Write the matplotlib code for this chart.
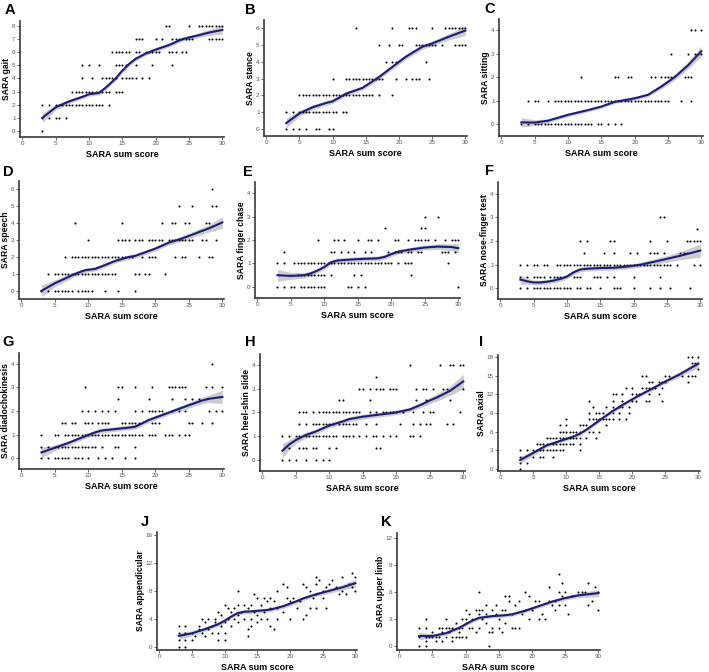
import matplotlib
matplotlib.use("Agg")
import matplotlib.pyplot as plt
import numpy as np

plt.rcParams['font.family'] = ['Liberation Sans', 'DejaVu Sans']

# ---- data: scatter rows as (item score, [sum scores]) ----
GAIT_ROWS = [
    (8, [21.5, 22, 25, 26.5, 27, 27.5, 28, 28.5, 29, 29.5, 30]),
    (7, [17, 17.5, 18, 20, 21, 22.5, 23, 23.5, 24, 24.5, 25, 25.5, 28, 28.5, 29, 29.5, 30]),
    (6, [13.5, 14, 14.5, 15, 15.5, 16, 17, 17.5, 18.5, 19, 19.5, 20, 20.5, 22, 22.5, 23, 24, 24.5]),
    (5, [9, 10, 11.5, 14, 14.5, 15, 15.5, 17, 19.5, 22.5]),
    (4, [9, 10.5, 12, 12.5, 13, 13.5, 14, 15, 15.5, 16, 16.5, 17, 18, 19]),
    (3, [7.5, 8, 8.5, 9, 9.5, 10, 10.5, 11, 11.5, 12, 12.5, 13, 14, 14.5, 15]),
    (2, [3, 4, 5, 5.5, 6, 6.5, 7, 7.5, 8, 8.5, 9, 9.5, 10, 10.5, 11, 11.5, 12, 13]),
    (1, [3, 4, 5, 5.5, 6.5]),
    (0, [3]),
]
STANCE_ROWS = [
    (6, [13.5, 19, 21.5, 22, 22.5, 25, 27, 27.5, 28, 28.5, 29, 29.5, 30]),
    (5, [17, 18.5, 20, 20.5, 22.5, 23, 23.5, 24, 24.5, 25, 25.5, 26.5, 28.5, 29, 29.5, 30]),
    (4, [18, 19, 19.5, 24]),
    (3, [10, 12, 12.5, 13, 13.5, 14, 14.5, 15, 15.5, 16, 16.5, 17, 17.5, 19.5, 21, 22, 22.5, 23, 24.5]),
    (2, [5, 5.5, 6, 6.5, 7, 7.5, 8, 8.5, 9, 9.5, 10, 10.5, 11, 11.5, 12, 12.5, 13, 13.5, 14,
         14.5, 15, 15.5, 16, 17, 19]),
    (1, [3, 4, 5, 5.5, 6, 6.5, 7, 7.5, 8, 8.5, 9, 9.5, 10, 10.5, 11.5, 12]),
    (0, [3, 4, 5, 6, 7.5, 8, 9.5, 10]),
]
SITTING_ROWS = [
    (4, [28.5, 29, 30]),
    (3, [25.5, 28, 29, 30]),
    (2, [12, 17, 17.5, 19, 19.5, 22.5, 23, 24, 24.5, 25, 25.5, 27.5, 28, 28.5]),
    (1, [4, 5, 5.5, 7, 8, 8.5, 9, 9.5, 10, 10.5, 11, 11.5, 12, 12.5, 13, 13.5, 14, 14.5, 15,
         15.5, 16, 16.5, 17, 17.5, 18, 18.5, 19, 19.5, 20, 20.5, 21, 21.5, 22, 22.5, 23, 23.5,
         24, 24.5, 25, 27, 28.5]),
    (0, [3, 4, 5, 5.5, 6, 6.5, 7, 7.5, 8, 8.5, 9, 9.5, 10, 10.5, 11, 11.5, 12, 12.5, 13, 13.5,
         14.5, 15, 16, 17, 18]),
]
SPEECH_ROWS = [
    (6, [28.5]),
    (5, [23.5, 25.5, 28.5, 29]),
    (4, [8, 15, 21, 22.5, 23, 24.5, 25, 27.5, 28]),
    (3, [10, 14.5, 15, 15.5, 16, 17, 17.5, 18, 19, 19.5, 20, 20.5, 21, 22, 22.5, 23, 23.5, 24,
         24.5, 25, 25.5, 27, 27.5, 29]),
    (2, [6.5, 7.5, 8, 8.5, 9, 9.5, 10, 10.5, 11, 11.5, 12, 12.5, 13, 13.5, 14, 14.5, 15, 15.5,
         16, 16.5, 18, 19, 19.5, 20, 23, 24, 24.5, 26.5, 28, 28.5]),
    (1, [4, 5, 5.5, 6, 6.5, 7, 7.5, 8, 8.5, 9, 9.5, 10, 10.5, 11, 11.5, 12, 12.5, 13, 13.5, 14,
         17, 17.5, 18.5, 19, 21.5]),
    (0, [3, 4, 5, 5.5, 6, 6.5, 7, 7.5, 8.5, 9, 9.5, 10, 10.5, 12.5, 14.5, 17]),
]
CHASE_ROWS = [
    (3, [25, 27]),
    (2.5, [19, 24.5, 25]),
    (2, [9, 11.5, 12, 13, 15, 16.5, 17, 18, 20.5, 21, 22.5, 23.5, 24, 24.5, 25, 25.5, 26.5, 28,
         29, 29.5, 30]),
    (1.5, [4, 11, 11.5, 12.5, 13.5, 14.5, 16, 17, 19.5, 20.5, 21, 21.5, 22.5, 23, 24, 24.5,
           27.5, 28, 28.5, 29.5]),
    (1, [3, 4, 5.5, 6, 6.5, 7, 7.5, 8, 8.5, 9, 9.5, 10, 10.5, 11, 11.5, 12, 12.5, 13, 13.5, 14,
         14.5, 15, 15.5, 16, 16.5, 17, 17.5, 18, 18.5, 19, 19.5, 20, 21, 22, 22.5, 23, 28.5]),
    (0.5, [6, 6.5, 7, 7.5, 8, 8.5, 9, 9.5, 10, 11, 14.5, 15.5, 23]),
    (0, [3, 4, 5, 5.5, 6.5, 7, 7.5, 8, 8.5, 9, 9.5, 10, 13.5, 14, 15, 16, 30]),
]
NOSE_ROWS = [
    (3, [24, 24.5]),
    (2.5, [29.5]),
    (2, [12, 13, 16.5, 17, 22.5, 25, 28, 28.5, 29, 29.5, 30]),
    (1.5, [12.5, 15.5, 17, 19.5, 20.5, 22.5, 23, 23.5, 24.5, 27, 27.5, 28]),
    (1, [3, 4, 5, 5.5, 6.5, 7, 8.5, 9, 9.5, 10, 10.5, 11, 11.5, 12, 12.5, 13, 13.5, 14, 14.5,
         15, 15.5, 16, 16.5, 17, 17.5, 18, 18.5, 19, 19.5, 20, 20.5, 21, 21.5, 22, 22.5, 23,
         23.5, 24, 24.5, 25, 25.5, 26.5, 29, 30]),
    (0.5, [3, 4, 5, 5.5, 6, 6.5, 7.5, 8, 8.5, 9, 11, 11.5, 12, 14, 14.5, 15, 16, 17, 20, 24]),
    (0, [3, 4, 5, 5.5, 6, 6.5, 7, 7.5, 8, 8.5, 9, 9.5, 10, 10.5, 11.5, 12, 13, 13.5, 15, 17,
         17.5, 18, 20, 22.5, 24, 25.5, 28.5]),
]
DIADO_ROWS = [
    (4, [28.5]),
    (3, [9.5, 14.5, 15, 17, 19.5, 22, 22.5, 23, 23.5, 24, 24.5, 27.5, 28.5, 30]),
    (2.5, [14.5, 19, 22.5, 24.5, 25.5, 26.5]),
    (2, [9, 10, 11, 12, 13, 14, 17, 18, 19, 19.5, 20, 20.5, 21, 22.5, 23.5, 24.5, 28, 29, 30]),
    (1.5, [6, 6.5, 7.5, 8, 9.5, 10, 10.5, 11.5, 12, 12.5, 13, 15, 15.5, 16, 16.5, 17, 17.5,
           19.5, 20, 20.5, 25, 25.5, 27, 28.5]),
    (1, [3, 5, 5.5, 6.5, 7, 7.5, 8, 8.5, 9, 9.5, 10, 10.5, 11, 11.5, 12, 12.5, 13, 13.5, 14,
         14.5, 15, 15.5, 16, 16.5, 17, 17.5, 18, 19, 19.5, 20, 21.5, 22, 22.5, 23.5, 24.5, 25]),
    (0.5, [3, 4, 5, 5.5, 6, 6.5, 7, 7.5, 8, 8.5, 9, 9.5, 10, 10.5, 11, 12, 14, 14.5, 17]),
    (0, [3, 4, 5, 5.5, 6, 6.5, 7, 8, 8.5, 9, 10, 11.5, 12.5, 13.5, 15.5, 17]),
]
HEEL_ROWS = [
    (4, [22, 26.5, 28, 28.5, 29.5, 30]),
    (3.5, [17]),
    (3, [14.5, 15, 16, 17, 17.5, 18, 19, 19.5, 20, 23, 24, 24.5, 25.5, 27, 27.5, 30]),
    (2.5, [11.5, 12, 16, 23, 24.5, 28]),
    (2, [5.5, 6, 6.5, 7.5, 8.5, 9, 9.5, 10, 10.5, 11, 11.5, 12, 12.5, 13, 13.5, 14, 14.5, 16,
         17, 18, 18.5, 19, 19.5, 20, 21, 22.5, 24, 25, 25.5, 29.5]),
    (1.5, [5.5, 6.5, 7.5, 8, 8.5, 9, 9.5, 10, 10.5, 11.5, 12, 12.5, 13, 13.5, 14, 15.5, 17,
           20.5, 22.5, 23.5, 24.5, 25, 27.5, 28.5]),
    (1, [3, 4, 5, 5.5, 6.5, 7, 7.5, 8, 8.5, 9, 9.5, 10, 10.5, 11, 12, 12.5, 13, 13.5, 14.5,
         15.5, 16.5, 17, 18, 19, 20, 22, 22.5, 23.5]),
    (0.5, [4, 5.5, 6, 6.5, 7.5, 8, 10, 11, 17, 17.5]),
    (0, [3, 4, 5, 6.5, 8, 9, 10]),
]
AXIAL_ROWS = [
    (18, [28.5, 29, 30]),
    (17, [29, 29.5]),
    (16, [30]),
    (15, [21.5, 22, 25, 25.5, 27.5, 28.5, 29, 29.5]),
    (14, [22.5, 23, 24, 24.5, 25, 28.5]),
    (13, [19, 20, 21.5, 22, 22.5, 23, 23.5, 24.5]),
    (12, [17, 17.5, 18.5, 20, 20.5, 21, 22.5, 24]),
    (11, [13.5, 17, 18.5, 20, 20.5, 22, 22.5, 24.5]),
    (10, [14, 16, 17, 18, 18.5, 19.5]),
    (9, [13.5, 14.5, 15, 15.5, 17, 18, 19.5]),
    (8, [10, 13.5, 14, 14.5, 15, 15.5, 16, 16.5, 17, 18, 19]),
    (7, [9, 10, 12, 12.5, 13, 16]),
    (6, [9, 9.5, 10, 10.5, 11, 11.5, 12, 13.5, 14, 15]),
    (5, [7, 7.5, 8, 8.5, 9, 9.5, 10, 10.5, 11, 11.5, 12, 13, 14.5]),
    (4, [5.5, 6, 6.5, 7, 8, 8.5, 9, 9.5, 10, 10.5, 11, 12]),
    (3, [3, 4, 5, 5.5, 6, 6.5, 7, 7.5, 8, 8.5, 9, 9.5, 12]),
    (2, [3, 5, 6, 6.5, 8]),
    (1, [3, 4]),
    (0, [3]),
]
# (sum score, item score) pairs for the finer-grained composite scores
APPEND_POINTS = [
    (3, 3), (3, 2), (3, 1), (3, 0), (4, 3), (4, 2), (4, 1), (4, 0), (5, 2), (5, 1), (5.5, 1.5),
    (6, 2.5), (6, 3), (6.5, 4), (6.5, 2), (7, 3.5), (7, 1.5), (7.5, 4), (7.5, 2.5), (8, 3),
    (8, 2), (8.5, 4), (8.5, 3.5), (9, 5), (9, 2), (9, 1), (9.5, 4.5), (9.5, 3), (10, 6), (10, 1),
    (10, 2), (10, 3.5), (10.5, 5.5), (10.5, 4), (11, 5), (11, 3), (11.5, 5.5), (11.5, 4),
    (12, 8), (12, 6), (12, 4.5), (12, 3.5), (12.5, 5), (13, 6), (13, 4), (13.5, 5.5),
    (13.5, 2.5), (13.5, 1.5), (14, 6), (14, 3), (14, 4), (14.5, 7.5), (14.5, 5), (15, 7),
    (15, 3.5), (15, 4.5), (15.5, 6), (15.5, 4), (16, 7), (16, 5), (16.5, 6.5), (16.5, 4),
    (17, 7), (17, 3), (17, 5.5), (17.5, 2.5), (17.5, 6.5), (18, 8), (18, 5.5), (18, 4), (19, 9),
    (19, 5), (19.5, 8.5), (19.5, 7), (20, 6.5), (20, 4), (20.5, 7), (21, 5.5), (21.5, 6.5),
    (22, 9), (22, 4), (22.5, 8.5), (22.5, 4.5), (23, 8), (23, 5.5), (23.5, 7), (24, 10), (24, 9),
    (24, 7.5), (24, 5.5), (24.5, 9.5), (25, 8), (25, 7), (25.5, 8.5), (25.5, 5.5), (26, 9),
    (26.5, 9.5), (27, 8.5), (27.5, 7.5), (28, 10), (28, 8), (28.5, 7.5), (29, 9), (29.5, 10.5),
    (29.5, 8.5), (30, 10), (30, 8),
]
UPPER_POINTS = [
    (3, 2), (3, 1), (3, 0), (4, 3), (4, 2), (4, 1), (4, 0.5), (4, 0), (4.5, 1), (5, 1.5), (5, 1),
    (5.5, 1), (5.5, 0.5), (6, 2), (6, 1), (6.5, 2), (6.5, 1.5), (6.5, 0.5), (7, 3), (7, 2),
    (7, 1), (7.5, 1.5), (7.5, 2), (8, 2), (8, 1), (8, 0.5), (8.5, 2.5), (8.5, 1), (9, 2),
    (9, 1.5), (9, 1), (9.5, 3), (9.5, 2), (9.5, 1), (10, 4), (10, 3), (10, 2.5), (10, 1),
    (10.5, 3.5), (10.5, 2), (11, 3), (11, 2), (11.5, 4), (11.5, 1.5), (12, 6), (12, 3.5),
    (12, 4), (12, 2), (12.5, 4), (12.5, 3), (13, 4.5), (13, 3.5), (13, 2.5), (13.5, 1.5),
    (13.5, 0), (14, 4), (14, 2), (14, 1.5), (14.5, 4.5), (14.5, 3.5), (15, 3), (15, 2),
    (15.5, 4), (15.5, 1.5), (16, 5.5), (16, 4), (16, 2.5), (16.5, 5.5), (16.5, 5), (17, 3.5),
    (17, 2), (17.5, 4.5), (17.5, 2), (18, 5), (18, 2), (18.5, 3.5), (19, 6), (19, 4),
    (19.5, 5.5), (19.5, 3), (20, 4), (20.5, 5), (21, 5), (21, 3), (21.5, 3.5), (22, 3),
    (22.5, 6.5), (22.5, 5), (23, 4.5), (23.5, 5), (23.5, 4), (24, 8), (24, 6), (24, 4.5),
    (24.5, 7), (24.5, 5.5), (25, 6), (25, 4.5), (25.5, 3.5), (26, 5.5), (27, 6), (27.5, 6),
    (28, 6), (28.5, 7), (28.5, 4.5), (29, 5), (29.5, 6.5), (30, 6), (30, 4),
]

# ---- data: smoothed fit (x, fitted value, CI half width) ----
GAIT_FIT_X = [3, 5, 7, 9, 10, 11.5, 12.5, 14, 15, 16, 17, 18.5, 20, 22, 24, 26.5, 28, 30]
GAIT_FIT_Y = [1.0, 1.8, 2.25, 2.6, 2.8, 2.9, 3.3, 4.0, 4.6, 5.1, 5.5, 5.9, 6.2, 6.55, 7.0, 7.3, 7.5, 7.7]
GAIT_CI = [0.35, 0.2, 0.15, 0.15, 0.15, 0.15, 0.15, 0.17, 0.17, 0.17, 0.17, 0.15, 0.15, 0.15, 0.15, 0.18, 0.22, 0.32]

STANCE_FIT_X = [3, 5, 7, 9, 10, 12, 14.5, 17, 19, 21, 23.5, 25, 27.5, 30]
STANCE_FIT_Y = [0.35, 0.93, 1.3, 1.55, 1.65, 2.1, 2.45, 3.1, 3.7, 4.3, 4.9, 5.1, 5.5, 5.87]
STANCE_CI = [0.3, 0.17, 0.15, 0.13, 0.13, 0.13, 0.13, 0.15, 0.15, 0.15, 0.15, 0.15, 0.18, 0.3]

SITTING_FIT_X = [3, 5, 7, 10, 13, 15, 17, 20, 22, 24, 26, 28, 30]
SITTING_FIT_Y = [0.08, 0.07, 0.15, 0.4, 0.6, 0.75, 0.95, 1.1, 1.25, 1.6, 2.0, 2.5, 3.1]
SITTING_CI = [0.2, 0.12, 0.08, 0.08, 0.07, 0.07, 0.07, 0.07, 0.08, 0.1, 0.12, 0.15, 0.22]

SPEECH_FIT_X = [3, 5, 8, 9.5, 11, 12, 14, 16, 17, 20, 22, 24, 26, 28, 30]
SPEECH_FIT_Y = [0.0, 0.45, 1.0, 1.22, 1.3, 1.45, 1.77, 2.0, 2.07, 2.5, 2.85, 3.1, 3.4, 3.7, 4.05]
SPEECH_CI = [0.35, 0.2, 0.15, 0.13, 0.13, 0.13, 0.13, 0.13, 0.13, 0.13, 0.14, 0.15, 0.18, 0.22, 0.35]

CHASE_FIT_X = [3, 5, 7, 8, 9, 10, 11, 12, 14, 16, 18, 19, 20, 21, 23, 25, 27, 29, 30]
CHASE_FIT_Y = [0.5, 0.47, 0.5, 0.58, 0.7, 0.85, 1.05, 1.13, 1.17, 1.2, 1.22, 1.28, 1.4, 1.5, 1.6, 1.68, 1.72, 1.7, 1.65]
CHASE_CI = [0.25, 0.15, 0.12, 0.1, 0.1, 0.1, 0.1, 0.1, 0.1, 0.1, 0.1, 0.1, 0.1, 0.1, 0.1, 0.1, 0.12, 0.15, 0.22]

NOSE_FIT_X = [3, 4, 5, 6, 7, 8, 9, 10, 11, 12, 13, 15, 17, 19, 21, 23, 25, 27, 30]
NOSE_FIT_Y = [0.37, 0.3, 0.25, 0.25, 0.28, 0.33, 0.4, 0.5, 0.68, 0.8, 0.83, 0.86, 0.87, 0.92, 1.0, 1.12, 1.25, 1.38, 1.6]
NOSE_CI = [0.2, 0.12, 0.1, 0.1, 0.1, 0.1, 0.1, 0.1, 0.1, 0.1, 0.1, 0.1, 0.1, 0.1, 0.1, 0.12, 0.14, 0.17, 0.28]

DIADO_FIT_X = [3, 5, 7, 9, 11, 12, 14, 16, 17, 18, 19, 21, 23, 25, 27, 28, 30]
DIADO_FIT_Y = [0.25, 0.45, 0.65, 0.88, 1.1, 1.18, 1.24, 1.3, 1.34, 1.48, 1.62, 1.83, 2.04, 2.25, 2.45, 2.52, 2.6]
DIADO_CI = [0.22, 0.12, 0.1, 0.1, 0.1, 0.1, 0.1, 0.1, 0.1, 0.1, 0.1, 0.1, 0.1, 0.12, 0.14, 0.16, 0.28]

HEEL_FIT_X = [3, 4, 5, 6.5, 8, 10, 12, 13, 15, 17, 19, 20, 22, 24, 25, 26, 28, 30]
HEEL_FIT_Y = [0.39, 0.65, 0.84, 1.05, 1.2, 1.45, 1.62, 1.72, 1.82, 1.89, 1.96, 2.0, 2.12, 2.36, 2.5, 2.62, 2.9, 3.3]
HEEL_CI = [0.3, 0.2, 0.15, 0.12, 0.1, 0.1, 0.1, 0.1, 0.1, 0.1, 0.1, 0.1, 0.1, 0.12, 0.13, 0.15, 0.2, 0.3]

AXIAL_FIT_X = [3, 5, 7, 9, 10, 11, 12, 13, 15, 17, 19, 21, 23, 25, 27, 30]
AXIAL_FIT_Y = [1.45, 2.6, 3.8, 4.5, 4.85, 5.2, 5.65, 6.3, 7.8, 9.3, 10.6, 11.8, 12.9, 14.05, 15.1, 16.9]
AXIAL_CI = [0.6, 0.4, 0.3, 0.3, 0.3, 0.3, 0.3, 0.3, 0.3, 0.3, 0.3, 0.3, 0.3, 0.35, 0.4, 0.6]

APPEND_FIT_X = [3, 5, 7, 9, 10, 11, 12, 13, 14, 16, 17, 19, 21, 22, 24, 26, 28, 30]
APPEND_FIT_Y = [1.53, 1.9, 2.5, 3.2, 3.7, 4.3, 4.8, 5.0, 5.05, 5.2, 5.3, 5.8, 6.5, 6.9, 7.5, 8.0, 8.5, 9.1]
APPEND_CI = [0.5, 0.35, 0.3, 0.3, 0.3, 0.3, 0.3, 0.3, 0.3, 0.3, 0.3, 0.3, 0.3, 0.3, 0.3, 0.35, 0.4, 0.55]

UPPER_FIT_X = [3, 5, 7, 9, 10, 11, 12, 14, 16, 17, 19, 21, 23, 25, 27, 30]
UPPER_FIT_Y = [1.1, 1.1, 1.4, 2.0, 2.4, 2.8, 3.1, 3.3, 3.4, 3.5, 3.9, 4.4, 4.9, 5.3, 5.6, 5.85]
UPPER_CI = [0.4, 0.25, 0.22, 0.2, 0.2, 0.2, 0.2, 0.2, 0.2, 0.2, 0.2, 0.2, 0.2, 0.22, 0.25, 0.4]

X_TICKS = [0, 5, 10, 15, 20, 25, 30]


def rows_to_xy(rows):
    xs, ys = [], []
    for y, row in rows:
        xs += row
        ys += [y] * len(row)
    return xs, ys


def pairs_to_xy(pairs):
    return [p[0] for p in pairs], [p[1] for p in pairs]


# letter, y label, points, fit, y ticks, y limits,
# axes box in pixels (left, right, top, bottom), letter position in pixels
PANELS = [
    ("A", "SARA gait", rows_to_xy(GAIT_ROWS), (GAIT_FIT_X, GAIT_FIT_Y, GAIT_CI),
     range(0, 9), (-0.46, 8.38), (20, 224, 21, 137), (10, 10)),
    ("B", "SARA stance", rows_to_xy(STANCE_ROWS), (STANCE_FIT_X, STANCE_FIT_Y, STANCE_CI),
     range(0, 7), (-0.42, 6.5), (264, 467, 20, 136), (250, 10)),
    ("C", "SARA sitting", rows_to_xy(SITTING_ROWS), (SITTING_FIT_X, SITTING_FIT_Y, SITTING_CI),
     range(0, 5), (-0.5, 4.47), (499, 703, 19, 136), (490, 9)),
    ("D", "SARA speech", rows_to_xy(SPEECH_ROWS), (SPEECH_FIT_X, SPEECH_FIT_Y, SPEECH_CI),
     range(0, 7), (-0.48, 6.5), (19, 224, 181, 299), (8, 172)),
    ("E", "SARA finger chase", rows_to_xy(CHASE_ROWS), (CHASE_FIT_X, CHASE_FIT_Y, CHASE_CI),
     range(0, 5), (-0.47, 4.47), (255, 460, 182, 298), (248, 172)),
    ("F", "SARA nose-finger test", rows_to_xy(NOSE_ROWS), (NOSE_FIT_X, NOSE_FIT_Y, NOSE_CI),
     range(0, 5), (-0.45, 4.5), (498, 702, 182, 299), (490, 171)),
    ("G", "SARA diadochokinesis", rows_to_xy(DIADO_ROWS), (DIADO_FIT_X, DIADO_FIT_Y, DIADO_CI),
     range(0, 5), (-0.45, 4.46), (19, 224, 353, 469), (8, 342)),
    ("H", "SARA heel-shin slide", rows_to_xy(HEEL_ROWS), (HEEL_FIT_X, HEEL_FIT_Y, HEEL_CI),
     range(0, 5), (-0.46, 4.45), (260, 465, 354, 471), (250, 342)),
    ("I", "SARA axial", rows_to_xy(AXIAL_ROWS), (AXIAL_FIT_X, AXIAL_FIT_Y, AXIAL_CI),
     range(0, 19, 3), (-0.3, 18.3), (498, 700, 355, 471), (481, 342)),
    ("J", "SARA appendicular", pairs_to_xy(APPEND_POINTS), (APPEND_FIT_X, APPEND_FIT_Y, APPEND_CI),
     range(0, 17, 4), (-0.5, 16.45), (157, 357, 532, 650), (145, 522)),
    ("K", "SARA upper limb", pairs_to_xy(UPPER_POINTS), (UPPER_FIT_X, UPPER_FIT_Y, UPPER_CI),
     range(0, 13, 3), (-0.45, 12.5), (397, 600, 533, 650), (386, 522)),
]

W, H = 709, 672
fig = plt.figure(figsize=(W / 100, H / 100), dpi=100)
fig.patch.set_facecolor("white")

for letter, label, (px, py), (fx, fy, ci), yticks, ylim, box, lpos in PANELS:
    l, r, t, b = box
    ax = fig.add_axes([l / W, 1 - b / H, (r - l) / W, (b - t) / H])
    fx, fy, ci = np.array(fx), np.array(fy), np.array(ci)
    ax.fill_between(fx, fy - ci, fy + ci, color="#c4c4c4", alpha=0.85, lw=0, zorder=1)
    ax.scatter(px, py, s=2.2, c="black", lw=0, zorder=2)
    ax.plot(fx, fy, color="#1c1c7a", lw=1.5, zorder=3)

    ax.set_xlim(-0.35, 30.25)
    ax.set_ylim(*ylim)
    ax.set_xticks(X_TICKS)
    ax.set_yticks(list(yticks))
    for side in ("top", "right"):
        ax.spines[side].set_visible(False)
    for side in ("left", "bottom"):
        ax.spines[side].set_color("#3a3a3a")
        ax.spines[side].set_linewidth(1.2)
    ax.tick_params(length=2, width=0.6, colors="#555555", labelsize=4.5, pad=1.2)
    ax.set_xlabel("SARA sum score", fontsize=6.5, fontweight="bold", labelpad=2.5)
    ax.set_ylabel(label, fontsize=6.2, fontweight="bold", labelpad=0.5)
    fig.text(lpos[0] / W, 1 - lpos[1] / H, letter, fontsize=10.5, fontweight="bold",
             ha="center", va="center")

fig.savefig("out.png", dpi=100, facecolor="white")
